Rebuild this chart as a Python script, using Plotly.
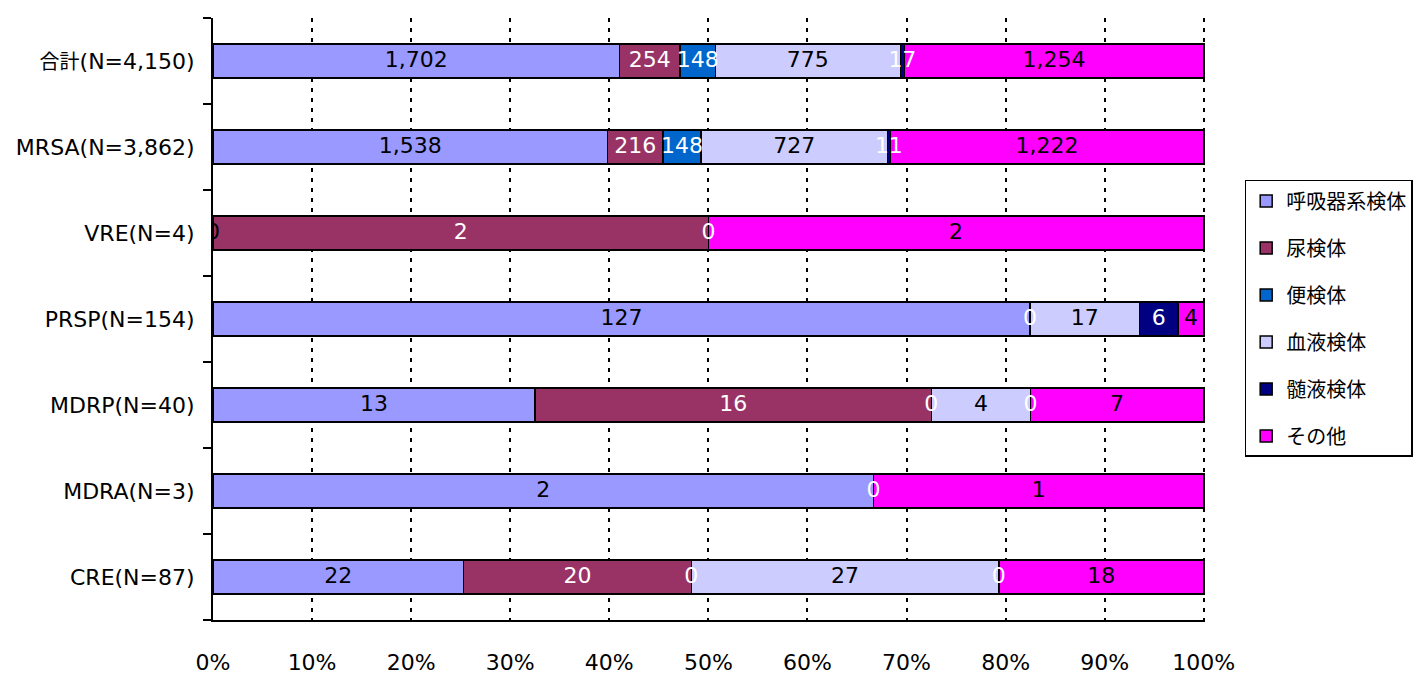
import re
import plotly.graph_objects as go

categories = ["合計(N=4,150)", "MRSA(N=3,862)", "VRE(N=4)", "PRSP(N=154)",
              "MDRP(N=40)", "MDRA(N=3)", "CRE(N=87)"]

series_names = ["呼吸器系検体", "尿検体", "便検体", "血液検体", "髄液検体", "その他"]
respiratory = [1702, 1538, 0, 127, 13, 2, 22]
urine = [254, 216, 2, None, 16, None, 20]
stool = [148, 148, 0, 0, 0, 0, 0]
blood = [775, 727, None, 17, 4, None, 27]
csf = [17, 11, None, 6, 0, None, 0]
other = [1254, 1222, 2, 4, 7, 1, 18]

series_values = [respiratory, urine, stool, blood, csf, other]
colors = ["#9999FF", "#993366", "#0066CC", "#CCCCFF", "#000080", "#FF00FF"]
label_colors = ["black", "white", "white", "black", "white", "black"]
x_tickvals = [0, 10, 20, 30, 40, 50, 60, 70, 80, 90, 100]
x_ticktext = ["0%", "10%", "20%", "30%", "40%", "50%", "60%", "70%", "80%", "90%", "100%"]

FONT = "DejaVu Sans, Noto Sans CJK JP, sans-serif"
LATIN = 22
CJK = 20
LEGEND = 20


def mixed(label):
    # CJK glyphs drawn slightly smaller than the Latin text, as in the original
    return re.sub(r"([\u3000-\u9fff]+)",
                  lambda m: f'<span style="font-size:{CJK}px">{m.group(1)}</span>', label)


totals = [sum(v[i] or 0 for v in series_values) for i in range(len(categories))]

fig = go.Figure()
for k, (name, vals) in enumerate(zip(series_names, series_values)):
    fig.add_trace(go.Bar(
        y=categories, x=vals, name=name, orientation="h",
        marker=dict(color=colors[k], line=dict(color="black", width=1.5)),
        legendgroup=name, hoverinfo="x+name",
    ))

# data labels centred on each segment
cum = [0.0] * len(categories)
for k, vals in enumerate(series_values):
    xs, ys, ts = [], [], []
    for i, v in enumerate(vals):
        if v is None:
            continue
        pct = v / totals[i] * 100
        xs.append(cum[i] + pct / 2)
        ys.append(categories[i])
        ts.append(f"{v:,}")
        cum[i] += pct
    fig.add_trace(go.Scatter(
        x=xs, y=ys, text=ts, mode="text", showlegend=False, hoverinfo="skip",
        textfont=dict(family=FONT, size=LATIN, color=label_colors[k]),
        textposition="middle center",
    ))

fig.update_layout(
    width=1416, height=675,
    barmode="stack", barnorm="percent", bargap=0.6,
    plot_bgcolor="white", paper_bgcolor="white",
    margin=dict(l=213, r=211, t=18, b=55, autoexpand=False),
    font=dict(family=FONT, size=LATIN, color="black"),
    legend=dict(
        x=1.040, y=0.731, xanchor="left", yanchor="top",
        bordercolor="black", borderwidth=1.5, bgcolor="white",
        traceorder="grouped", tracegroupgap=18,
        font=dict(family=FONT, size=LEGEND),
    ),
    xaxis=dict(
        range=[0, 100.12], tickvals=x_tickvals, ticktext=x_ticktext,
        showgrid=True, gridcolor="black", gridwidth=2, griddash="4px,6px",
        showline=True, linecolor="black", linewidth=2,
        ticks="", ticklabelstandoff=22, zeroline=False, automargin=False,
        tickfont=dict(family=FONT, size=LATIN),
    ),
    yaxis=dict(
        categoryorder="array", categoryarray=categories, autorange="reversed",
        tickmode="array", tickvals=categories, ticktext=[mixed(c) for c in categories],
        showline=True, linecolor="black", linewidth=2,
        ticks="outside", tickson="boundaries", ticklen=8, tickwidth=1.5, tickcolor="black",
        showgrid=False, ticklabelstandoff=12, automargin=False,
        tickfont=dict(family=FONT, size=LATIN),
    ),
)

fig.write_html("out.html", config={"displayModeBar": False},
               post_script="document.body.style.margin='0';document.body.style.overflow='hidden';")
